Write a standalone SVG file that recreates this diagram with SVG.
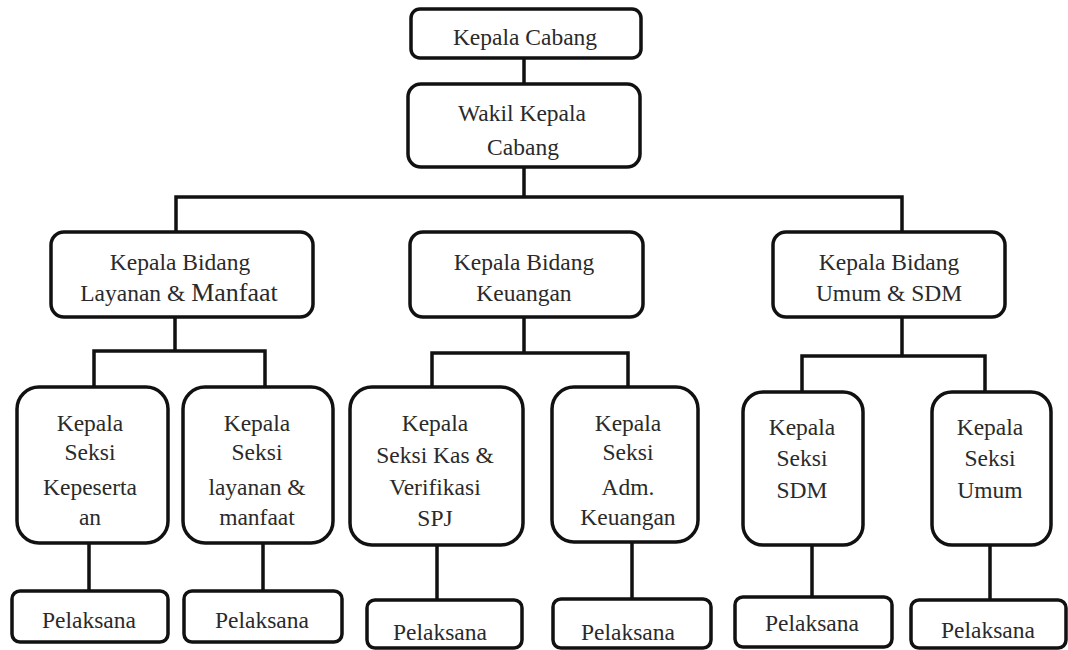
<svg xmlns="http://www.w3.org/2000/svg" width="1068" height="650" viewBox="0 0 1068 650">
<style>
.box{fill:#fff;stroke:#111;stroke-width:3.5}
.ln{fill:none;stroke:#111;stroke-width:3.5;stroke-linecap:square}
.t{font-size:23.5px;fill:#2a2a2a;text-anchor:middle}
</style>
<rect width="1068" height="650" fill="#fff"/>
<g id="connectors">
<path class="ln" d="M524 58V84"/>
<path class="ln" d="M524 167V197M176 232V197H902V232"/>
<path class="ln" d="M175 317V351M94 385V351H265V385"/>
<path class="ln" d="M524 317V353M432 385V353H628V385"/>
<path class="ln" d="M902 317V356M802 390V356H985V390"/>
<path class="ln" d="M89 543V591M263 543V591M437 545V600M632 542V599M812 545V597M990 545V600"/>
</g>
<g class="t" font-family="Liberation Serif, Times New Roman, serif">
<g id="kepala-cabang"><rect class="box" x="411" y="9" width="230" height="49" rx="9"/><text x="525" y="45">Kepala Cabang</text></g>
<g id="wakil"><rect class="box" x="408" y="84" width="232" height="83" rx="13"/><text x="522" y="121">Wakil Kepala</text><text x="523" y="155">Cabang</text></g>
<g id="bidang-layanan"><rect class="box" x="51" y="232" width="262" height="85" rx="13"/><text x="180" y="270">Kepala Bidang</text><text x="179" y="301">Layanan &amp; <tspan font-size="26">Manfaat</tspan></text></g>
<g id="bidang-keuangan"><rect class="box" x="410" y="232" width="233" height="85" rx="13"/><text x="524" y="270">Kepala Bidang</text><text x="524" y="301">Keuangan</text></g>
<g id="bidang-umum"><rect class="box" x="773" y="232" width="232" height="85" rx="13"/><text x="889" y="270">Kepala Bidang</text><text x="889" y="301">Umum &amp; SDM</text></g>
<g id="seksi-kepesertaan"><rect class="box" x="17" y="387" width="151" height="156" rx="22"/><text x="90" y="431">Kepala</text><text x="90" y="460">Seksi</text><text x="90" y="495">Kepeserta</text><text x="90" y="525">an</text></g>
<g id="seksi-layanan"><rect class="box" x="183" y="387" width="150" height="156" rx="22"/><text x="257" y="431">Kepala</text><text x="257" y="460">Seksi</text><text x="257" y="495">layanan &amp;</text><text x="257" y="525">manfaat</text></g>
<g id="seksi-kas"><rect class="box" x="350" y="387" width="173" height="158" rx="22"/><text x="435" y="431">Kepala</text><text x="435" y="463">Seksi Kas &amp;</text><text x="435" y="495">Verifikasi</text><text x="435" y="526">SPJ</text></g>
<g id="seksi-adm"><rect class="box" x="552" y="387" width="146" height="155" rx="22"/><text x="628" y="431">Kepala</text><text x="628" y="460">Seksi</text><text x="628" y="495">Adm.</text><text x="628" y="525">Keuangan</text></g>
<g id="seksi-sdm"><rect class="box" x="743" y="392" width="120" height="153" rx="20"/><text x="802" y="435">Kepala</text><text x="802" y="466">Seksi</text><text x="802" y="498">SDM</text></g>
<g id="seksi-umum"><rect class="box" x="932" y="392" width="119" height="153" rx="20"/><text x="990" y="435">Kepala</text><text x="990" y="466">Seksi</text><text x="990" y="498">Umum</text></g>
<g id="pelaksana-1"><rect class="box" x="12" y="591" width="156" height="51" rx="8"/><text x="89" y="628">Pelaksana</text></g>
<g id="pelaksana-2"><rect class="box" x="184" y="591" width="158" height="51" rx="8"/><text x="262" y="628">Pelaksana</text></g>
<g id="pelaksana-3"><rect class="box" x="367" y="600" width="155" height="48" rx="8"/><text x="440" y="640">Pelaksana</text></g>
<g id="pelaksana-4"><rect class="box" x="553" y="599" width="158" height="49" rx="8"/><text x="628" y="640">Pelaksana</text></g>
<g id="pelaksana-5"><rect class="box" x="735" y="597" width="157" height="50" rx="8"/><text x="812" y="631">Pelaksana</text></g>
<g id="pelaksana-6"><rect class="box" x="911" y="600" width="155" height="48" rx="8"/><text x="988" y="638">Pelaksana</text></g>
</g>
</svg>
